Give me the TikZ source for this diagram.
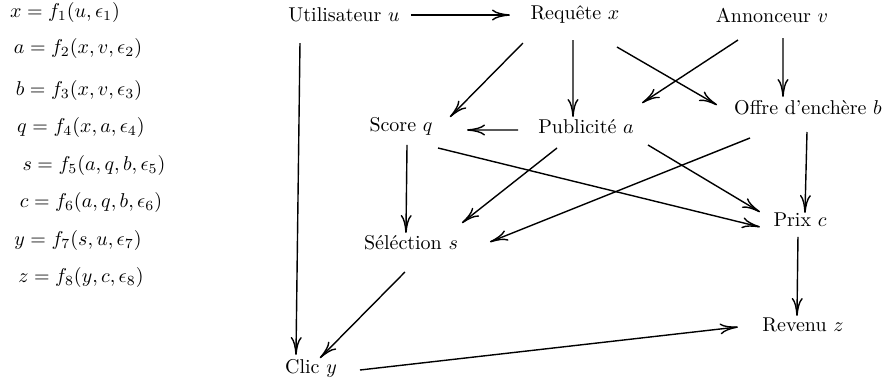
\documentclass[tikz,border=0pt]{standalone}
\usepackage{fontspec}
\usepackage{tikz}
\usetikzlibrary{arrows.meta,calc}
\tikzset{
    var/.style={inner sep=0pt, align=center},
    eq/.style={inner sep=0pt},
    arrow/.style={-{To[length=9pt,width=5.5pt]}, line width=0.7pt, draw=black}
}
\begin{document}
\begin{tikzpicture}
\useasboundingbox (0,0) rectangle (15.57,-6.748);
\node[eq] (eqx) at (1.142,-0.211) {$x = f_1(u, \epsilon_1)$};
\node[eq] (eqa) at (1.371,-0.844) {$a = f_2(x, v, \epsilon_2)$};
\node[eq] (eqb) at (1.388,-1.599) {$b = f_3(x, v, \epsilon_3)$};
\node[eq] (eqq) at (1.423,-2.249) {$q = f_4(x, a, \epsilon_4)$};
\node[eq] (eqs) at (1.652,-2.900) {$s = f_5(a, q, b, \epsilon_5)$};
\node[eq] (eqc) at (1.599,-3.567) {$c = f_6(a, q, b, \epsilon_6)$};
\node[eq] (eqy) at (1.371,-4.218) {$y = f_7(s, u, \epsilon_7)$};
\node[eq] (eqz) at (1.423,-4.885) {$z = f_8(y, c, \epsilon_8)$};
\node[var] (user) at (6.045,-0.264) {Utilisateur $u$};
\node[var] (query) at (10.104,-0.264) {Requête $x$};
\node[var] (adv) at (13.566,-0.264) {Annonceur $v$};
\node[var] (score) at (7.047,-2.214) {Score $q$};
\node[var] (ad) at (10.298,-2.232) {Publicité $a$};
\node[var] (bid) at (14.199,-1.898) {Offre d'enchère $b$};
\node[var] (sel) at (7.222,-4.270) {Séléction $s$};
\node[var] (price) at (14.058,-3.866) {Prix $c$};
\node[var] (rev) at (14.111,-5.711) {Revenu $z$};
\node[var] (click) at (5.465,-6.467) {Clic $y$};
\draw[arrow] ([xshift=33.5pt]user.center) -- ([xshift=-32.5pt]query.center);
\draw[arrow] ([xshift=-22pt,yshift=-14pt]user.center) -- ([xshift=-7.5pt,yshift=6.5pt]click.center);
\draw[arrow] ([xshift=-26pt,yshift=-14pt]query.center) -- ([xshift=24.5pt,yshift=4.5pt]score.center);
\draw[arrow] ([xshift=-1pt,yshift=-12.5pt]query.center) -- ([xshift=-6.5pt,yshift=5pt]ad.center);
\draw[arrow] ([xshift=21pt,yshift=-16pt]query.center) -- ([xshift=-45.5pt,yshift=1.5pt]bid.center);
\draw[arrow] ([xshift=-17pt,yshift=-12.5pt]adv.center) -- ([xshift=28pt,yshift=12pt]ad.center);
\draw[arrow] ([xshift=5.5pt,yshift=-11.5pt]adv.center) -- ([xshift=-12.5pt,yshift=5.5pt]bid.center);
\draw[arrow] ([xshift=-34pt,yshift=-1.5pt]ad.center) -- ([xshift=33pt,yshift=-2pt]score.center);
\draw[arrow] ([xshift=3pt,yshift=-9.5pt]score.center) -- ([xshift=-2.5pt,yshift=5pt]sel.center);
\draw[arrow] ([xshift=18.5pt,yshift=-11pt]score.center) -- ([xshift=-20pt,yshift=-3.5pt]price.center);
\draw[arrow] ([xshift=-14.5pt,yshift=-10.5pt]ad.center) -- ([xshift=25.5pt,yshift=10pt]sel.center);
\draw[arrow] ([xshift=31pt,yshift=-9pt]ad.center) -- ([xshift=-20pt,yshift=4pt]price.center);
\draw[arrow] ([xshift=-29pt,yshift=-15pt]bid.center) -- ([xshift=39.5pt,yshift=0.5pt]sel.center);
\draw[arrow] ([xshift=-0.5pt,yshift=-12pt]bid.center) -- ([xshift=2.5pt,yshift=3.5pt]price.center);
\draw[arrow] ([xshift=-1pt,yshift=-8.5pt]price.center) -- ([xshift=-3pt,yshift=4.5pt]rev.center);
\draw[arrow] ([xshift=-3pt,yshift=-14.5pt]sel.center) -- ([xshift=4.5pt,yshift=5pt]click.center);
\draw[arrow] ([xshift=24.5pt,yshift=-1pt]click.center) -- ([xshift=-32.5pt,yshift=-1pt]rev.center);
\end{tikzpicture}
\end{document}
